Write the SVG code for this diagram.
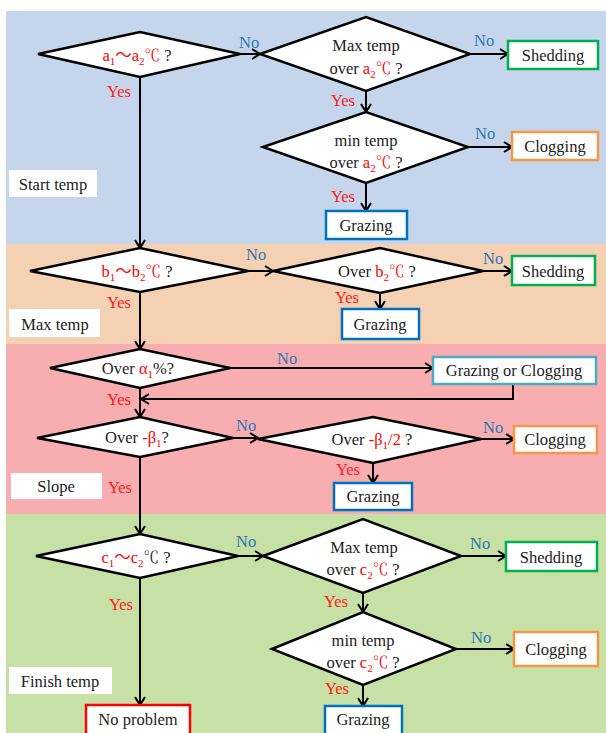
<svg xmlns="http://www.w3.org/2000/svg" width="606" height="733" viewBox="0 0 606 733" font-family="'Liberation Serif', 'Times New Roman', serif">
<style>
text{font-family:'Liberation Serif','Times New Roman',serif}
.t{font-size:16.5px;fill:#222}
.v{fill:#FF0000}
.s{font-size:11px}
.u{font-family:'Noto Sans CJK JP','Noto Serif CJK JP',sans-serif}
.dc{font-family:'Noto Serif CJK JP','Noto Sans CJK JP',serif;font-size:15.5px}
.yes{font-size:16.5px;fill:#FF1A1A}
.no{font-size:16.5px;fill:#2E75B6}
.dia{fill:#fff;stroke:#000;stroke-width:2.5;stroke-linejoin:miter}
.box{fill:#fff;stroke-width:2.5}
.lab{fill:#fff}
.c{fill:none;stroke:#000;stroke-width:2;marker-end:url(#arr)}
</style>
<defs>
<marker id="arr" viewBox="0 0 10 12" refX="9" refY="6" markerWidth="10" markerHeight="12" markerUnits="userSpaceOnUse" orient="auto">
<path d="M1,1 L9,6 L1,11" fill="none" stroke="#000" stroke-width="2"/>
</marker>
</defs>
<rect x="0" y="0" width="606" height="733" fill="#fff"/>
<g id="bands">
<rect x="6" y="11" width="600" height="233" fill="#C5D6EC"/>
<rect x="6" y="244" width="600" height="100" fill="#F3D1B2"/>
<rect x="6" y="344" width="600" height="170" fill="#F8AEB0"/>
<rect x="6" y="514" width="600" height="219" fill="#C6E0A5"/>
</g>
<g id="labels">
<g id="lab-start"><rect class="lab" x="9" y="170" width="88" height="27"/><text class="t" x="53" y="190" text-anchor="middle">Start temp</text></g>
<g id="lab-max"><rect class="lab" x="9" y="309" width="91" height="28"/><text class="t" x="55" y="330" text-anchor="middle">Max temp</text></g>
<g id="lab-slope"><rect class="lab" x="11" y="473" width="91" height="26"/><text class="t" x="56" y="492" text-anchor="middle">Slope</text></g>
<g id="lab-finish"><rect class="lab" x="9" y="667" width="103" height="27"/><text class="t" x="60" y="687" text-anchor="middle">Finish temp</text></g>
</g>
<g id="connectors">
<line class="c" x1="240" y1="54" x2="260" y2="54"/>
<line class="c" x1="470" y1="54" x2="508" y2="54"/>
<line class="c" x1="366" y1="91" x2="366" y2="112"/>
<line class="c" x1="468" y1="147" x2="512" y2="147"/>
<line class="c" x1="366" y1="183" x2="366" y2="211"/>
<line class="c" x1="140" y1="77" x2="140" y2="248"/>
<line class="c" x1="248" y1="271" x2="273" y2="271"/>
<line class="c" x1="483" y1="271" x2="512" y2="271"/>
<line class="c" x1="380" y1="293" x2="380" y2="309"/>
<line class="c" x1="140" y1="292" x2="140" y2="349"/>
<line class="c" x1="230" y1="368" x2="433" y2="368"/>
<polyline class="c" points="513,384 513,399 141,399"/>
<line class="c" x1="140" y1="388" x2="140" y2="417"/>
<line class="c" x1="233" y1="438" x2="258" y2="438"/>
<line class="c" x1="481" y1="439" x2="514" y2="439"/>
<line class="c" x1="373" y1="463" x2="373" y2="483"/>
<line class="c" x1="140" y1="457" x2="140" y2="534"/>
<line class="c" x1="238" y1="556" x2="263" y2="556"/>
<line class="c" x1="461" y1="556" x2="506" y2="556"/>
<line class="c" x1="363" y1="593" x2="363" y2="612"/>
<line class="c" x1="456" y1="649" x2="514" y2="649"/>
<line class="c" x1="363" y1="685" x2="363" y2="706"/>
<line class="c" x1="140" y1="578" x2="140" y2="705"/>
</g>
<g id="edge-labels">
<text class="no" x="239" y="48">No</text>
<text class="yes" x="107" y="97">Yes</text>
<text class="no" x="474" y="46">No</text>
<text class="yes" x="331" y="106">Yes</text>
<text class="no" x="475" y="139">No</text>
<text class="yes" x="331" y="202">Yes</text>
<text class="no" x="246" y="260">No</text>
<text class="yes" x="107" y="308">Yes</text>
<text class="no" x="483" y="264">No</text>
<text class="yes" x="335" y="303">Yes</text>
<text class="no" x="277" y="364">No</text>
<text class="yes" x="107" y="405">Yes</text>
<text class="no" x="236" y="431">No</text>
<text class="yes" x="108" y="493">Yes</text>
<text class="no" x="483" y="433">No</text>
<text class="yes" x="336" y="475">Yes</text>
<text class="no" x="236" y="547">No</text>
<text class="yes" x="109" y="610">Yes</text>
<text class="no" x="470" y="549">No</text>
<text class="yes" x="324" y="607">Yes</text>
<text class="no" x="471" y="643">No</text>
<text class="yes" x="325" y="694">Yes</text>
</g>
<g id="d1"><polygon class="dia" points="38,54 140,32 240,54 140,77"/>
<text class="t" x="137" y="61" text-anchor="middle"><tspan class="v">a<tspan class="s" dy="4">1</tspan><tspan class="u" dy="-4">～</tspan>a<tspan class="s" dy="4">2</tspan><tspan class="dc" dy="-4">℃</tspan></tspan> ?</text></g>
<g id="d2"><polygon class="dia" points="260,54 366,17 470,54 366,91"/>
<text class="t" x="366" y="51" text-anchor="middle">Max temp</text>
<text class="t" x="366" y="74" text-anchor="middle">over <tspan class="v">a<tspan class="s" dy="4">2</tspan><tspan class="dc" dy="-4">℃</tspan></tspan> ?</text></g>
<g id="d3"><polygon class="dia" points="263,147 366,112 468,147 366,183"/>
<text class="t" x="366" y="146" text-anchor="middle">min temp</text>
<text class="t" x="366" y="168" text-anchor="middle">over <tspan class="v">a<tspan class="s" dy="4">2</tspan><tspan class="dc" dy="-4">℃</tspan></tspan> ?</text></g>
<g id="shed1"><rect class="box" x="508" y="41" width="90" height="28" stroke="#00B050"/><text class="t" x="553" y="61" text-anchor="middle">Shedding</text></g>
<g id="clog1"><rect class="box" x="512" y="132" width="86" height="28" stroke="#F79646"/><text class="t" x="555" y="152" text-anchor="middle">Clogging</text></g>
<g id="graz1"><rect class="box" x="326" y="211" width="81" height="28" stroke="#0070C0"/><text class="t" x="366" y="231" text-anchor="middle">Grazing</text></g>
<g id="d4"><polygon class="dia" points="30,271 140,248 248,271 140,292"/>
<text class="t" x="137" y="277" text-anchor="middle"><tspan class="v">b<tspan class="s" dy="4">1</tspan><tspan class="u" dy="-4">～</tspan>b<tspan class="s" dy="4">2</tspan><tspan class="dc" dy="-4">℃</tspan></tspan> ?</text></g>
<g id="d5"><polygon class="dia" points="273,271 380,248 483,271 380,293"/>
<text class="t" x="377" y="277" text-anchor="middle">Over <tspan class="v">b<tspan class="s" dy="4">2</tspan><tspan class="dc" dy="-4">℃</tspan></tspan> ?</text></g>
<g id="shed2"><rect class="box" x="512" y="256" width="83" height="29" stroke="#00B050"/><text class="t" x="553" y="277" text-anchor="middle">Shedding</text></g>
<g id="graz2"><rect class="box" x="342" y="309" width="77" height="30" stroke="#0070C0"/><text class="t" x="380" y="330" text-anchor="middle">Grazing</text></g>
<g id="d6"><polygon class="dia" points="50,368 140,349 230,368 140,388"/>
<text class="t" x="138" y="374" text-anchor="middle">Over <tspan class="v">α<tspan class="s" dy="4">1</tspan></tspan><tspan dy="-4">%?</tspan></text></g>
<g id="goc"><rect class="box" x="433" y="357" width="163" height="27" stroke="#4BACC6"/><text class="t" x="514" y="376" text-anchor="middle">Grazing or Clogging</text></g>
<g id="d7"><polygon class="dia" points="37,438 140,417 233,438 140,457"/>
<text class="t" x="137" y="443" text-anchor="middle">Over <tspan class="v">-β<tspan class="s" dy="4">1</tspan></tspan><tspan dy="-4">?</tspan></text></g>
<g id="d8"><polygon class="dia" points="258,439 373,417 481,439 373,463"/>
<text class="t" x="372" y="445" text-anchor="middle">Over <tspan class="v">-β<tspan class="s" dy="4">1</tspan><tspan dy="-4">/2</tspan></tspan> ?</text></g>
<g id="clog3"><rect class="box" x="514" y="426" width="83" height="27" stroke="#F79646"/><text class="t" x="555" y="445" text-anchor="middle">Clogging</text></g>
<g id="graz3"><rect class="box" x="334" y="483" width="78" height="27" stroke="#0070C0"/><text class="t" x="373" y="502" text-anchor="middle">Grazing</text></g>
<g id="d9"><polygon class="dia" points="36,556 140,534 238,556 140,578"/>
<text class="t" x="136" y="563" text-anchor="middle"><tspan class="v">c<tspan class="s" dy="4">1</tspan><tspan class="u" dy="-4">～</tspan>c<tspan class="s" dy="4">2</tspan></tspan><tspan class="dc" dy="-4">℃</tspan> ?</text></g>
<g id="d10"><polygon class="dia" points="263,556 363,519 461,556 363,593"/>
<text class="t" x="364" y="553" text-anchor="middle">Max temp</text>
<text class="t" x="363" y="575" text-anchor="middle">over <tspan class="v">c<tspan class="s" dy="4">2</tspan><tspan class="dc" dy="-4">℃</tspan></tspan> ?</text></g>
<g id="shed3"><rect class="box" x="506" y="542" width="91" height="29" stroke="#00B050"/><text class="t" x="551" y="563" text-anchor="middle">Shedding</text></g>
<g id="d11"><polygon class="dia" points="272,649 363,612 456,649 363,685"/>
<text class="t" x="363" y="646" text-anchor="middle">min temp</text>
<text class="t" x="363" y="668" text-anchor="middle">over <tspan class="v">c<tspan class="s" dy="4">2</tspan><tspan class="dc" dy="-4">℃</tspan></tspan> ?</text></g>
<g id="clog4"><rect class="box" x="514" y="632" width="84" height="34" stroke="#F79646"/><text class="t" x="556" y="655" text-anchor="middle">Clogging</text></g>
<g id="graz4"><rect class="box" x="325" y="706" width="77" height="35" stroke="#0070C0"/><text class="t" x="363" y="725" text-anchor="middle">Grazing</text></g>
<g id="noprob"><rect class="box" x="86" y="705" width="104" height="35" stroke="#FF0000"/><text class="t" x="138" y="725" text-anchor="middle">No problem</text></g>
</svg>
